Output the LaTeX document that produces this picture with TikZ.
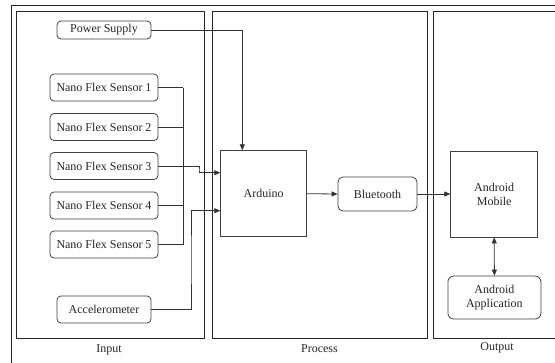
\documentclass[tikz,border=0pt]{standalone}
\usepackage{fontspec}
\setmainfont{Liberation Serif}
\usetikzlibrary{arrows.meta}
\begin{document}
\begin{tikzpicture}[x=1pt,y=-1pt,
  font=\fontsize{12}{14}\selectfont,
  txt/.style={text=black!85},
  panel/.style={draw=black!85,line width=0.9pt,inner sep=0pt,anchor=north west},
  rbox/.style={draw=black!75,line width=0.8pt,rounded corners=4pt,inner sep=0pt,align=center,text=black!85},
  sbox/.style={draw=black!75,line width=0.8pt,inner sep=0pt,align=center,text=black!85},
  wire/.style={draw=black!80,line width=0.8pt},
  arr/.style={wire,-{Triangle[length=6pt,width=5pt]}},
  arrb/.style={wire,{Triangle[length=6pt,width=5pt]}-{Triangle[length=6pt,width=5pt]}}]
\clip (0,0) rectangle (555,362);
\fill[white] (0,0) rectangle (555,362);
% outer frame
\draw[black!85,line width=0.9pt] (11,5) rectangle (575,380);
% panels
\node[panel,minimum width=188pt,minimum height=327pt] (pin) at (16,11) {};
\node[panel,minimum width=215pt,minimum height=327pt] (pproc) at (212,11) {};
\node[panel,minimum width=140pt,minimum height=327pt] (pout) at (433,11) {};
\node[txt] (lin) at (109,350) {Input};
\node[txt] (lproc) at (319.5,349) {Process};
\node[txt] (lout) at (497,348) {Output};
% input nodes
\node[rbox,minimum width=94pt,minimum height=18pt] (ps) at (104,30) {Power Supply};
\node[rbox,minimum width=108pt,minimum height=27pt] (s1) at (104,87.5) {Nano Flex Sensor 1};
\node[rbox,minimum width=108pt,minimum height=27pt] (s2) at (104,127) {Nano Flex Sensor 2};
\node[rbox,minimum width=108pt,minimum height=27pt] (s3) at (104,166) {Nano Flex Sensor 3};
\node[rbox,minimum width=108pt,minimum height=27pt] (s4) at (104,205.5) {Nano Flex Sensor 4};
\node[rbox,minimum width=108pt,minimum height=27pt] (s5) at (104,244.5) {Nano Flex Sensor 5};
\node[rbox,minimum width=94pt,minimum height=27pt] (acc) at (104,309.5) {Accelerometer};
% process nodes
\node[sbox,minimum width=86pt,minimum height=86pt] (ard) at (263.7,193.7) {Arduino};
\node[rbox,minimum width=79pt,minimum height=34pt,rounded corners=5pt] (bt) at (377.5,194) {Bluetooth};
% output nodes
\node[sbox,minimum width=87pt,minimum height=86pt] (mob) at (494.2,194) {Android\\Mobile};
\node[rbox,minimum width=93pt,minimum height=43pt,rounded corners=6pt] (app) at (494.4,297.5) {Android\\Application};
% coordinates
\coordinate (busx) at (183,0);
\coordinate (j3) at (199,170);
\coordinate (ja) at (191,260);
% sensor bus
\draw[wire] (s1.east) -- (s1.east -| busx);
\draw[wire] (s2.east) -- (s2.east -| busx);
\draw[wire] (s4.east) -- (s4.east -| busx);
\draw[wire] (s5.east) -- (s5.east -| busx);
\draw[wire] (s1.east -| busx) -- (s5.east -| busx);
\draw[arr] (s3.east) -| (j3) |- ([yshift=21pt]ard.west);
\draw[arr] (acc.east) -| (ja) |- ([yshift=-17pt]ard.west);
\draw[arr] (ps.east) -| ([xshift=-21.4pt]ard.north);
\draw[arr] (ard.east) -- (bt.west);
\draw[arr] (bt.east) -- (mob.west);
\draw[arrb] (mob.south) -- (app.north);
\end{tikzpicture}
\end{document}
